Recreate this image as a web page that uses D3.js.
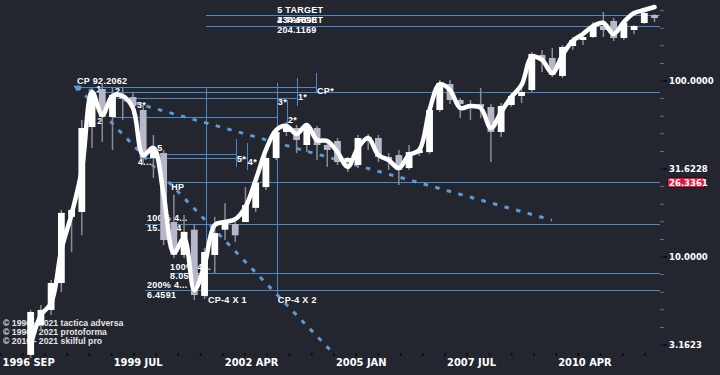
<!DOCTYPE html>
<html>
<head>
<meta charset="utf-8">
<script src="https://cdn.jsdelivr.net/npm/d3@7"></script>
<style>
  html, body { margin: 0; padding: 0; background: #23262f; }
  #chart { width: 720px; height: 375px; }
</style>
</head>
<body>
<div id="chart"></div>
<script>
// quarterly candles, x measured in months from 1996 SEP
const firstMonth = 9
const monthStep = 3
const opens  = [2.76, 4.08, 4.97, 7.07, 16.8, 17.9, 54.4, 89.5, 62.0, 82.7, 80.6, 68.0, 36.3, 38.7, 15.7, 10.2, 14.2, 5.97, 10.2, 14.2, 15.3, 15.7, 18.9, 24.8, 36.3, 51.0, 53.7, 43.0, 53.7, 43.0, 45.3, 34.4, 33.1, 47.8, 47.1, 36.8, 37.7, 31.8, 38.7, 39.2, 68.0, 95.5, 77.5, 69.8, 73.5, 70.7, 51.0, 72.6, 81.7, 88.3, 139.6, 134.2, 106.1, 157.0, 169.9, 176.7, 204.0, 217.8, 174.4, 193.6, 212.2, 235.6]
const closes = [4.84, 4.97, 7.07, 17.7, 18.4, 53.7, 86.0, 62.0, 82.7, 78.5, 71.6, 36.3, 40.3, 12.4, 10.2, 13.8, 6.04, 10.6, 13.6, 15.5, 13.2, 19.6, 26.2, 36.3, 51.0, 55.2, 45.9, 54.4, 43.0, 40.3, 34.4, 36.3, 47.1, 45.3, 36.8, 35.3, 31.0, 39.2, 40.3, 68.0, 96.8, 77.5, 73.5, 73.5, 70.7, 51.0, 71.6, 81.7, 86.0, 141.5, 130.8, 107.5, 155.0, 169.9, 176.7, 204.0, 193.6, 174.4, 212.2, 204.0, 241.8, 226.5]
const highs  = [4.97, 5.30, 7.36, 18.4, 18.9, 59.7, 90.7, 96.8, 90.7, 91.9, 86.0, 72.6, 49.0, 40.3, 22.4, 17.2, 15.1, 11.2, 16.8, 20.1, 16.5, 24.8, 27.9, 37.7, 53.7, 58.1, 55.9, 55.9, 55.2, 45.9, 47.1, 36.8, 49.0, 49.7, 49.0, 38.7, 40.3, 43.0, 41.9, 69.8, 100.6, 100.6, 79.5, 77.5, 90.7, 73.5, 74.5, 84.9, 90.7, 145.2, 149.0, 153.0, 159.1, 176.7, 188.6, 215.0, 245.0, 226.5, 220.7, 206.7, 258.2, 238.6]
const lows   = [2.65, 3.82, 4.65, 6.28, 10.6, 13.2, 41.4, 44.7, 40.3, 59.7, 63.7, 33.1, 27.9, 11.6, 9.81, 9.81, 5.66, 5.74, 8.06, 12.4, 12.1, 15.7, 17.9, 23.9, 35.3, 48.4, 38.7, 39.2, 35.3, 32.3, 33.1, 30.2, 31.8, 40.3, 34.4, 31.0, 25.5, 31.0, 37.2, 38.2, 66.2, 73.5, 61.2, 59.7, 61.2, 34.4, 47.8, 70.7, 74.5, 86.0, 111.8, 104.7, 103.3, 149.0, 159.1, 174.4, 176.7, 167.7, 169.9, 183.8, 209.4, 215.0]
// smoothed price line
const smooth = [3.14, 4.65, 5.44, 10.9, 17.4, 31.0, 86.0, 63.7, 81.7, 81.7, 69.8, 37.7, 41.4, 22.4, 10.5, 12.7, 6.45, 8.95, 15.1, 15.7, 16.3, 19.1, 27.2, 40.3, 52.3, 55.2, 49.7, 55.9, 45.9, 45.3, 39.2, 32.3, 41.4, 47.1, 37.7, 35.3, 31.8, 37.7, 40.3, 68.0, 95.5, 88.3, 69.8, 71.6, 69.8, 53.7, 66.2, 80.6, 94.3, 136.0, 130.8, 110.3, 139.6, 167.7, 183.8, 204.0, 212.2, 183.8, 215.0, 241.8, 251.5, 261.6]

// x axis
const xTickLabels = ["1996 SEP", "1999 JUL", "2002 APR", "2005 JAN", "2007 JUL", "2010 APR"]
const xTickStep = 163 / 25
const xTickCount = 30
const lastPrice = 26.3361

// horizontal levels
const levelValues = [234.6898, 204.1169, 92.2062, 85.7, 79.9, 62.3, 38.2, 36.5, 26.3361, 15.3144, 8.0536, 6.4591]
const levelFrom   = [60.3, 60.3, 22.6, 28.2, 34.3, 33.1, 46.1, 41.1, 49.0, 42.5, 49.9, 42.5]
const levelTo     = [193.6, 193.6, 92.7, 193.6, 87.0, 81.2, 69.2, 72.5, 193.6, 193.6, 193.6, 193.6]

// vertical markers
const markerMonths = [60.3, 81.2, 84.1, 87.0, 92.7, 69.2, 72.5]
const markerTop    = [92.2062, 96.8, 77.5, 103.3, 110.3, 46.5, 44.2]
const markerBottom = [5.89, 5.89, 52.3, 71.6, 84.9, 32.3, 31.0]

// dotted fan lines from CP
const fanStart = [22.6, 92.2062]
const fanEndMonths = [161.9, 97.4]
const fanEndValues = [16.1, 2.87]

// annotations
const noteTexts  = ["CP 92.2062", "1", "2", "2", "3*", "5", "4...", "HP", "100%  4...", "15.3144", "100%  4...", "8.0536", "200%  4...", "6.4591", "CP-4 X 1", "CP-4 X 2", "3*", "1*", "2*", "CP*", "5*", "4*", "5 TARGET", "234.6898", "4 TARGET", "204.1169"]
const noteMonths = [22.6, 28.2, 33.7, 28.5, 40.2, 46.1, 40.5, 50.2, 43.1, 43.1, 49.9, 49.9, 43.1, 43.1, 61.0, 81.5, 81.5, 87.4, 84.5, 93.0, 69.5, 72.7, 81.3, 81.3, 81.3, 81.3]
const noteValues = [95.5, 86.5, 83.8, 56.6, 69.8, 39.8, 33.1, 23.9, 15.9, 13.96, 8.38, 7.45, 6.62, 5.81, 5.44, 5.44, 72.6, 77.5, 57.4, 83.8, 34.4, 33.1, 241.8, 212.2, 212.2, 186.2]

const copyrights = ["© 1996 - 2021 tactica adversa", "© 1996 - 2021 protoforma", "© 2016 - 2021 skilful pro"]

function drawChart() {
    const width = 720
    const height = 375
    const plotRight = 660
    const axisY = 353

    const svg = d3.select("#chart").append("svg")
                  .attr("width", width)
                  .attr("height", height)
    svg.append("rect")
       .attr("width", width)
       .attr("height", height)
       .attr("fill", "#23262f")

    // scales
    const xScale = d3.scaleLinear()
                     .domain([0, 193.6])
                     .range([0, plotRight])
    const yScale = d3.scaleLog()
                     .domain([1, 1000])
                     .range([432.5, -95.5])

    const blue = "#4b88c8"
    const dotBlue = "#5b9bd6"
    const noteFont = "'Liberation Sans', Arial, sans-serif"

    // copyright lines (behind candles)
    svg.append("g")
       .selectAll("text")
       .data(copyrights)
       .join("text")
       .attr("x", 3)
       .attr("y", (d, i) => 326 + i * 9)
       .attr("font-family", noteFont)
       .attr("font-weight", "bold")
       .attr("font-size", "8.7px")
       .attr("fill", "#e4e4e4")
       .text(d => d)

    // horizontal levels
    svg.append("g")
       .attr("shape-rendering", "crispEdges")
       .selectAll("line")
       .data(levelValues)
       .join("line")
       .attr("x1", (d, i) => xScale(levelFrom[i]))
       .attr("x2", (d, i) => xScale(levelTo[i]))
       .attr("y1", d => Math.round(yScale(d)) + 0.5)
       .attr("y2", d => Math.round(yScale(d)) + 0.5)
       .attr("stroke", blue)
       .attr("stroke-width", 1)

    // vertical markers
    svg.append("g")
       .attr("shape-rendering", "crispEdges")
       .selectAll("line")
       .data(markerMonths)
       .join("line")
       .attr("x1", d => Math.round(xScale(d)) + 0.5)
       .attr("x2", d => Math.round(xScale(d)) + 0.5)
       .attr("y1", (d, i) => yScale(markerTop[i]))
       .attr("y2", (d, i) => yScale(markerBottom[i]))
       .attr("stroke", blue)
       .attr("stroke-width", 1)

    // dotted fan lines
    svg.append("g")
       .selectAll("line")
       .data(fanEndMonths)
       .join("line")
       .attr("x1", xScale(fanStart[0]))
       .attr("y1", yScale(fanStart[1]))
       .attr("x2", d => xScale(d))
       .attr("y2", (d, i) => yScale(fanEndValues[i]))
       .attr("stroke", dotBlue)
       .attr("stroke-width", 3)
       .attr("stroke-dasharray", "4.5 7.5")
    svg.append("path")
       .attr("d", d3.symbol(d3.symbolTriangle, 22)())
       .attr("transform", `translate(${xScale(fanStart[0])}, ${yScale(fanStart[1]) + 1}) rotate(180)`)
       .attr("fill", dotBlue)

    // annotations
    svg.append("g")
       .selectAll("text")
       .data(noteTexts)
       .join("text")
       .attr("x", (d, i) => xScale(noteMonths[i]))
       .attr("y", (d, i) => yScale(noteValues[i]))
       .attr("font-family", noteFont)
       .attr("font-weight", "bold")
       .attr("font-size", "9px")
       .attr("letter-spacing", "0.3px")
       .attr("fill", "#ffffff")
       .text(d => d)

    // candles
    const candles = d3.range(opens.length)
    const candleX = i => xScale(firstMonth + i * monthStep)
    const candleG = svg.append("g")
    candleG.selectAll("line")
           .data(candles)
           .join("line")
           .attr("x1", i => candleX(i))
           .attr("x2", i => candleX(i))
           .attr("y1", i => yScale(highs[i]))
           .attr("y2", i => yScale(lows[i]))
           .attr("stroke", "#8a8c96")
           .attr("stroke-width", 1.5)
    candleG.selectAll("rect")
           .data(candles)
           .join("rect")
           .attr("x", i => candleX(i) - 3.4)
           .attr("width", 6.8)
           .attr("y", i => yScale(Math.max(opens[i], closes[i])))
           .attr("height", i => Math.max(1.5, Math.abs(yScale(opens[i]) - yScale(closes[i]))))
           .attr("fill", i => closes[i] >= opens[i] ? "#ffffff" : "#b7b7c9")

    // smooth line
    const lineGenerator = d3.line()
                            .x((d, i) => candleX(i))
                            .y(d => yScale(d))
                            .curve(d3.curveCatmullRom.alpha(0.5))
    svg.append("path")
       .attr("d", lineGenerator(smooth))
       .attr("fill", "none")
       .attr("stroke", "#ffffff")
       .attr("stroke-width", 4.5)
       .attr("stroke-linecap", "round")
       .attr("stroke-linejoin", "round")

    // x axis
    const xTicks = d3.range(xTickCount).map(k => k * xTickStep)
    const xAxis = d3.axisBottom(xScale)
                    .tickValues(xTicks)
                    .tickSizeInner(3)
                    .tickSizeOuter(0)
                    .tickFormat((d, k) => k % 5 === 0 ? xTickLabels[k / 5] : "")
    const xAxisG = svg.append("g")
                      .attr("transform", `translate(0, ${axisY})`)
                      .call(xAxis)
    xAxisG.select(".domain").remove()
    xAxisG.selectAll("line").attr("stroke", "#0b0b0e").attr("stroke-width", 1.6)
    xAxisG.selectAll("text")
          .attr("text-anchor", "start")
          .attr("x", 2)
          .attr("y", 13)
          .attr("dy", 0)
          .attr("fill", "#ffffff")
          .attr("font-family", "'Liberation Sans Narrow', 'DejaVu Sans Condensed', sans-serif")
          .attr("font-weight", "bold")
          .attr("font-size", "11px")

    // y axis: minor ticks every 0.1 decade, labels every half decade
    const minorTicks = d3.range(5, 25).map(k => Math.pow(10, k / 10))
    const majorTicks = d3.range(5, 25, 5).map(k => Math.pow(10, k / 10))
    const yMinor = svg.append("g")
                      .attr("transform", `translate(${plotRight}, 0)`)
                      .call(d3.axisRight(yScale).tickValues(minorTicks).tickSize(4).tickFormat(""))
    yMinor.select(".domain").remove()
    yMinor.selectAll("line").attr("stroke", "#6c6f7a")
    const yMajor = svg.append("g")
                      .attr("transform", `translate(${plotRight}, 0)`)
                      .call(d3.axisRight(yScale).tickValues(majorTicks).tickSize(7).tickPadding(2).tickFormat(d3.format(".4f")))
    yMajor.select(".domain").remove()
    yMajor.selectAll("line").attr("stroke", "#07070a").attr("stroke-width", 1.5)
    yMajor.selectAll("text")
          .attr("fill", "#ffffff")
          .attr("font-family", "'DejaVu Sans', sans-serif")
          .attr("font-weight", "bold")
          .attr("font-size", "8.5px")

    // last price tag
    const priceY = yScale(lastPrice)
    svg.append("rect")
       .attr("x", 667.5)
       .attr("y", priceY - 5)
       .attr("width", 37)
       .attr("height", 10)
       .attr("fill", "#e3173f")
       .attr("stroke", "#111")
       .attr("stroke-width", 0.8)
    svg.append("text")
       .attr("x", 669)
       .attr("y", priceY + 3.2)
       .attr("fill", "#ffffff")
       .attr("font-family", "'DejaVu Sans', sans-serif")
       .attr("font-weight", "bold")
       .attr("font-size", "8.5px")
       .text(d3.format(".4f")(lastPrice))
}

drawChart()
</script>
</body>
</html>
